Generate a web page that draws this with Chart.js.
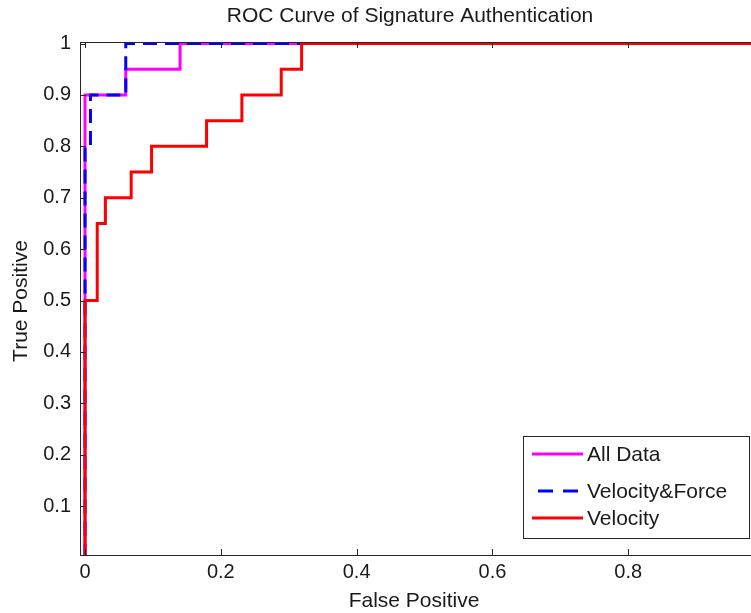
<!DOCTYPE html>
<html>
<head>
<meta charset="utf-8">
<title>ROC Curve of Signature Authentication</title>
<script src="https://cdn.jsdelivr.net/npm/chart.js@4.4.1/dist/chart.umd.min.js"></script>
<style>
  html, body { margin: 0; padding: 0; background: #fff; overflow: hidden; }
  #wrap { position: relative; width: 751px; height: 613px; overflow: hidden; }
  canvas { display: block; }
</style>
</head>
<body>
<div id="wrap"><canvas id="roc" width="800" height="613"></canvas></div>
<script>
// ── text ──
const chartTitle = 'ROC Curve of Signature Authentication';
const xTitle = 'False Positive';
const yTitle = 'True Positive';
const seriesNames = ['All Data', 'Velocity&Force', 'Velocity'];

// ── ROC points (false positive rate / true positive rate) ──
const allDataFpr = [0, 0, 0.06, 0.14, 1];
const allDataTpr = [0, 0.9, 0.95, 1, 1];
const velForceFpr = [0, 0, 0.008, 0.06, 1];
const velForceTpr = [0, 0.8, 0.9, 1, 1];
const velocityFpr = [0, 0, 0.018, 0.03, 0.068, 0.098, 0.179, 0.231, 0.289, 0.319, 1];
const velocityTpr = [0, 0.5, 0.65, 0.7, 0.75, 0.8, 0.85, 0.9, 0.95, 1, 1];

// ── ticks ──
const xTicks = [0, 0.2, 0.4, 0.6, 0.8, 1];
const yTicks = [0.1, 0.2, 0.3, 0.4, 0.5, 0.6, 0.7, 0.8, 0.9, 1];

const FONT = '"Liberation Sans", Arial, sans-serif';
const INK = '#1a1a1a';

const toPoints = (xs, ys) => xs.map((x, i) => ({ x, y: ys[i] }));

// MATLAB-ish box, inward ticks, titles and legend
const matlabAxes = {
  id: 'matlabAxes',
  afterDraw(chart) {
    const { ctx, chartArea: a } = chart;
    const sx = chart.scales.x, sy = chart.scales.y;
    const tick = 6;
    ctx.save();

    ctx.strokeStyle = '#262626';
    ctx.lineWidth = 1;
    ctx.strokeRect(a.left + 0.5, a.top + 0.5, a.right - a.left, a.bottom - a.top);
    ctx.beginPath();
    xTicks.forEach(v => {
      const px = Math.round(sx.getPixelForValue(v)) + 0.5;
      ctx.moveTo(px, a.bottom); ctx.lineTo(px, a.bottom - tick);
      ctx.moveTo(px, a.top); ctx.lineTo(px, a.top + tick);
    });
    yTicks.forEach(v => {
      const py = Math.round(sy.getPixelForValue(v)) + 0.5;
      ctx.moveTo(a.left, py); ctx.lineTo(a.left + tick, py);
      ctx.moveTo(a.right, py); ctx.lineTo(a.right - tick, py);
    });
    ctx.stroke();

    // titles
    ctx.fillStyle = INK;
    ctx.font = '21px ' + FONT;
    ctx.textAlign = 'center';
    ctx.textBaseline = 'middle';
    ctx.fillText(chartTitle, 410, 16);
    ctx.fillText(xTitle, 414, 601);
    ctx.save();
    ctx.translate(21, 301);
    ctx.rotate(-Math.PI / 2);
    ctx.fillText(yTitle, 0, 0);
    ctx.restore();

    // legend box
    const lg = { left: 523.5, top: 436.5, right: 749.5, bottom: 538.5 };
    ctx.fillStyle = '#fff';
    ctx.fillRect(lg.left, lg.top, lg.right - lg.left, lg.bottom - lg.top);
    ctx.strokeStyle = '#262626';
    ctx.lineWidth = 1;
    ctx.strokeRect(lg.left, lg.top, lg.right - lg.left, lg.bottom - lg.top);

    const rows = [454, 491, 518];
    chart.data.datasets.forEach((ds, i) => {
      const y = rows[i];
      ctx.save();
      ctx.strokeStyle = ds.borderColor;
      ctx.lineWidth = 3;
      ctx.beginPath();
      if (ds.borderDash && ds.borderDash.length) {
        ctx.moveTo(538, y); ctx.lineTo(553, y);
        ctx.moveTo(563, y); ctx.lineTo(578, y);
      } else {
        ctx.moveTo(532, y); ctx.lineTo(583, y);
      }
      ctx.stroke();
      ctx.restore();
      ctx.fillStyle = INK;
      ctx.font = '21px ' + FONT;
      ctx.textAlign = 'left';
      ctx.textBaseline = 'middle';
      ctx.fillText(ds.label, 587, y + 1);
    });

    ctx.restore();
  }
};

new Chart(document.getElementById('roc'), {
  type: 'scatter',
  data: {
    datasets: [
      {
        label: seriesNames[0],
        data: toPoints(allDataFpr, allDataTpr),
        borderColor: '#ff00ff',
        order: 3
      },
      {
        label: seriesNames[1],
        data: toPoints(velForceFpr, velForceTpr),
        borderColor: '#0000ff',
        borderDash: [14, 8],
        order: 2
      },
      {
        label: seriesNames[2],
        data: toPoints(velocityFpr, velocityTpr),
        borderColor: '#ff0000',
        order: 1
      }
    ].map(d => Object.assign(d, {
      showLine: true,
      stepped: 'before',   // horizontal first, then up
      borderWidth: 3,
      pointRadius: 0,
      pointHoverRadius: 0,
      fill: false
    }))
  },
  options: {
    responsive: false,
    animation: false,
    devicePixelRatio: 1,
    layout: { padding: { left: 0, top: 42, right: 36, bottom: 0 } },
    plugins: {
      legend: { display: false },
      title: { display: false },
      tooltip: { enabled: false }
    },
    scales: {
      x: {
        type: 'linear',
        min: -0.0074,
        max: 1,
        grid: { display: false, drawTicks: false },
        border: { display: false },
        afterBuildTicks: s => { s.ticks = xTicks.map(v => ({ value: v })); },
        afterFit: s => { s.height = 58; },
        ticks: {
          padding: 5,
          color: INK,
          font: { family: FONT, size: 20 },
          maxRotation: 0,
          callback: v => String(+v.toFixed(1))
        }
      },
      y: {
        type: 'linear',
        min: 0.005,
        max: 1.003,
        grid: { display: false, drawTicks: false },
        border: { display: false },
        afterBuildTicks: s => { s.ticks = yTicks.map(v => ({ value: v })); },
        afterFit: s => { s.width = 80; },
        ticks: {
          padding: 9,
          color: INK,
          font: { family: FONT, size: 20 },
          callback: v => String(+v.toFixed(1))
        }
      }
    }
  },
  plugins: [matlabAxes]
});
</script>
</body>
</html>
